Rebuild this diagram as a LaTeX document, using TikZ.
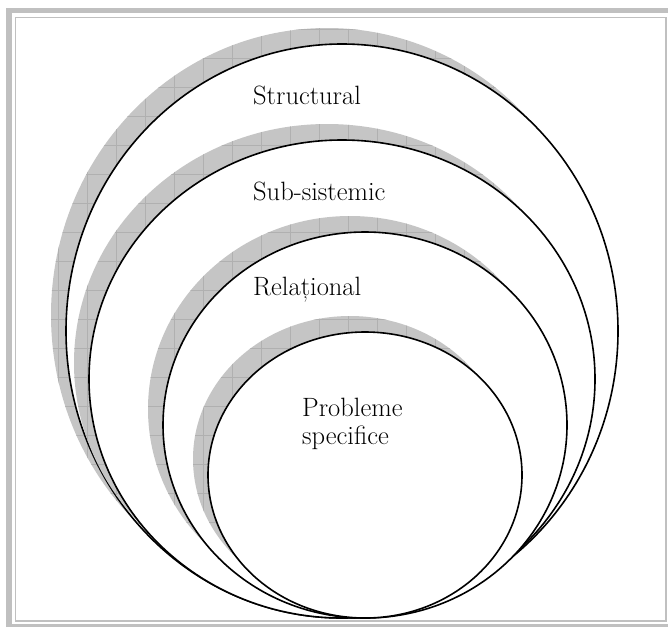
\documentclass[tikz,border=0pt]{standalone}
\usepackage{fontspec}
\usepackage{tikz}
\usepackage{xcolor}
\definecolor{shadowgray}{RGB}{197,197,197}
\definecolor{shadowgrid}{RGB}{176,176,176}
\definecolor{framegray}{RGB}{192,192,192}

\begin{document}
\begin{tikzpicture}[x=1pt,y=-1pt,
  ring/.style={draw=black,line width=1.6pt,fill=white},
  ringtext/.style={anchor=base west,inner sep=0pt,font=\fontsize{26.5}{28}\selectfont}]
  \useasboundingbox (0,0) rectangle (668,627);

  % border
  \draw[framegray,line width=5.5pt] (9,627) -- (9,10.5) -- (668,10.5);
  \draw[framegray,line width=1.5pt] (15.5,621) -- (15.5,17.5) -- (666,17.5) -- (666,621) -- cycle;
  \draw[framegray,line width=3pt] (6,625.5) -- (668,625.5);

  % circles with their shadows, outer to inner
  \foreach \cx/\cy/\rx/\ry in {342/331/276/287, 342/379/253/239, 365/425/202/193, 365/475/157/143}{
    \begin{scope}
      \clip (\cx-15,\cy-16) ellipse [x radius=\rx, y radius=\ry];
      \fill[shadowgray] (0,0) rectangle (668,627);
      \foreach \g in {0,29,...,667}
        \draw[shadowgrid,line width=0.5pt] (\g,0) -- (\g,627) (0,\g) -- (668,\g);
    \end{scope}
    \draw[ring] (\cx,\cy) ellipse [x radius=\rx, y radius=\ry];
  }

  \node[ringtext] (structural) at (253,104) {Structural};
  \node[ringtext] (subsistemic) at (253,200) {Sub-sistemic};
  \node[ringtext] (relational) at (253,295) {Relațional};
  \node[ringtext] (probleme) at (302,416) {Probleme};
  \node[ringtext] (specifice) at (302,444) {specifice};
\end{tikzpicture}
\end{document}
